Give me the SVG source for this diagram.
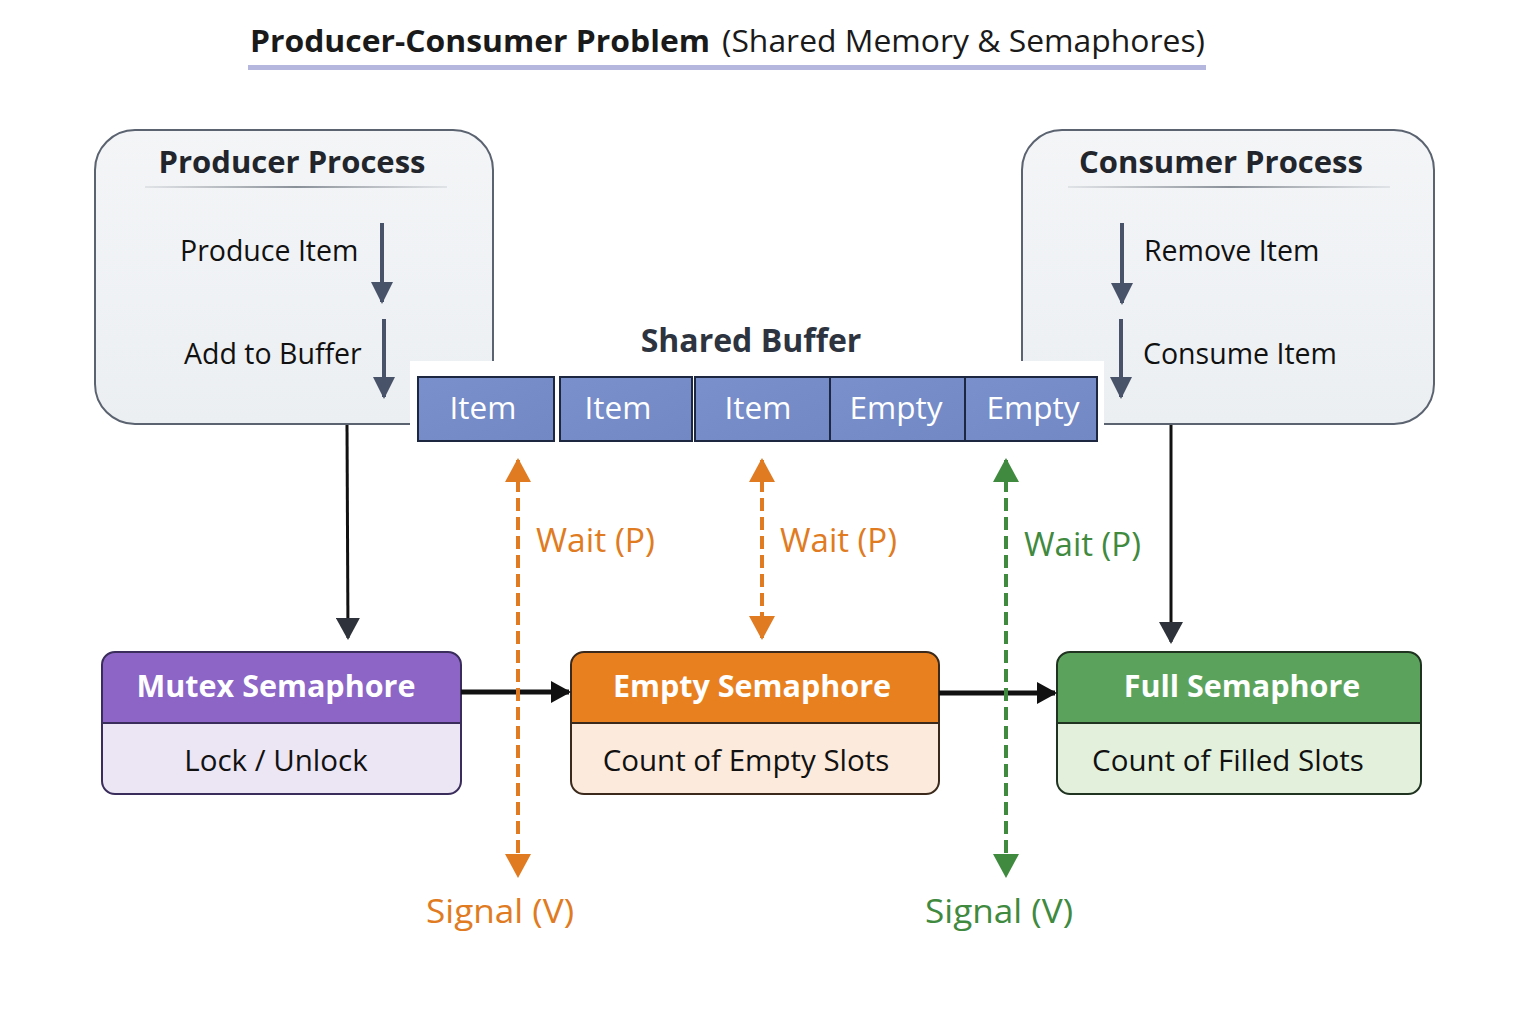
<svg xmlns="http://www.w3.org/2000/svg" width="1536" height="1024" viewBox="0 0 1536 1024">
<defs>
<style>
text{font-family:"Open Sans","Noto Sans","Liberation Sans",sans-serif}
.title{font-size:31px;fill:#1a1a1a}
.ph{font-size:31px;font-weight:700;fill:#22262c;text-anchor:middle}
.step{font-size:28.5px;font-weight:500;fill:#111}
.cell{font-size:31.5px;font-weight:500;fill:#fff;text-anchor:middle}
.shh{font-size:30.5px;font-weight:700;fill:#fff;text-anchor:middle}
.shb{font-size:29.5px;font-weight:500;fill:#111;text-anchor:middle}
.orange{fill:#e07b22;font-size:32px;font-weight:500}
.green{fill:#3f8a3f;font-size:32px;font-weight:500}
.pbox{fill:url(#pg);stroke:#5b6370;stroke-width:2}
.cellr{fill:url(#cg);stroke:#1e2740;stroke-width:2}
.step-arrow{stroke:#48536a;stroke-width:4;fill:none;marker-end:url(#slate)}
.blk{stroke:#111;stroke-width:3;fill:none;marker-end:url(#blackv)}
.blkh{stroke:#111;stroke-width:5;fill:none;marker-end:url(#blackh)}
.dash-o{stroke:#e07b22;stroke-width:4;stroke-dasharray:13 6;fill:none}
.dash-g{stroke:#3f8a3f;stroke-width:4;stroke-dasharray:13 6;fill:none}
</style>
<linearGradient id="pg" x1="0" y1="0" x2="0" y2="1"><stop offset="0" stop-color="#f3f5f7"/><stop offset="1" stop-color="#eceff2"/></linearGradient>
<linearGradient id="cg" x1="0" y1="0" x2="1" y2="1"><stop offset="0" stop-color="#7a90cc"/><stop offset="1" stop-color="#7188c4"/></linearGradient>
<linearGradient id="dv" x1="0" y1="0" x2="1" y2="0"><stop offset="0" stop-color="#9aa0a8" stop-opacity="0.2"/><stop offset="0.5" stop-color="#8a9098"/><stop offset="1" stop-color="#9aa0a8" stop-opacity="0.2"/></linearGradient>
<marker id="slate" markerUnits="userSpaceOnUse" markerWidth="24" markerHeight="22" refX="20" refY="11" orient="auto"><path d="M0,0 L22,11 L0,22 z" fill="#48536a"/></marker>
<marker id="blackv" markerUnits="userSpaceOnUse" markerWidth="24" markerHeight="24" refX="20" refY="12" orient="auto"><path d="M0,0 L22,12 L0,24 z" fill="#2e333b"/></marker>
<marker id="blackh" markerUnits="userSpaceOnUse" markerWidth="22" markerHeight="22" refX="18" refY="11" orient="auto"><path d="M0,0 L20,11 L0,22 z" fill="#111"/></marker>
<marker id="oa" markerUnits="userSpaceOnUse" markerWidth="26" markerHeight="26" refX="22" refY="13" orient="auto-start-reverse"><path d="M0,0 L24,13 L0,26 z" fill="#e07b22"/></marker>
<marker id="ga" markerUnits="userSpaceOnUse" markerWidth="26" markerHeight="26" refX="22" refY="13" orient="auto-start-reverse"><path d="M0,0 L24,13 L0,26 z" fill="#3f8a3f"/></marker>
</defs>
<rect width="1536" height="1024" fill="#fff"/>

<g id="title">
<text class="title" x="250" y="52"><tspan font-weight="700" textLength="460" lengthAdjust="spacingAndGlyphs">Producer-Consumer Problem</tspan><tspan x="722" textLength="483" lengthAdjust="spacingAndGlyphs">(Shared Memory &amp; Semaphores)</tspan></text>
<rect x="248" y="65" width="958" height="5" fill="#b6b7df"/>
</g>

<g id="producer">
<rect class="pbox" x="95" y="130" width="398" height="294" rx="40"/>
<text class="ph" x="292" y="173">Producer Process</text>
<rect x="145" y="186" width="302" height="2" fill="url(#dv)"/>
<text class="step" x="180" y="261">Produce Item</text>
<text class="step" x="184" y="364">Add to Buffer</text>
<line class="step-arrow" x1="382" y1="223" x2="382" y2="302"/>
<line class="step-arrow" x1="384" y1="319" x2="384" y2="397"/>
</g>

<g id="consumer">
<rect class="pbox" x="1022" y="130" width="412" height="294" rx="40"/>
<text class="ph" x="1221" y="173">Consumer Process</text>
<rect x="1068" y="186" width="322" height="2" fill="url(#dv)"/>
<text class="step" x="1144" y="261">Remove Item</text>
<text class="step" x="1143" y="364">Consume Item</text>
<line class="step-arrow" x1="1122" y1="223" x2="1122" y2="303"/>
<line class="step-arrow" x1="1121" y1="319" x2="1121" y2="397"/>
</g>

<g id="buffer">
<rect x="410" y="361" width="694" height="64" fill="#fff"/>
<text x="751" y="352" font-size="32" font-weight="700" fill="#2d3440" text-anchor="middle">Shared Buffer</text>
<rect class="cellr" x="418" y="377" width="136" height="64"/>
<rect class="cellr" x="560" y="377" width="132" height="64"/>
<rect class="cellr" x="695" y="377" width="135" height="64"/>
<rect class="cellr" x="830" y="377" width="135" height="64"/>
<rect class="cellr" x="965" y="377" width="132" height="64"/>
<text class="cell" x="483" y="419">Item</text>
<text class="cell" x="618" y="419">Item</text>
<text class="cell" x="758" y="419">Item</text>
<text class="cell" x="896" y="419">Empty</text>
<text class="cell" x="1033" y="419">Empty</text>
</g>

<g id="mutex">
<rect x="102" y="652" width="359" height="142" rx="13" fill="#ebe5f4"/>
<path d="M102,723 V665 a13,13 0 0 1 13,-13 H448 a13,13 0 0 1 13,13 V723 z" fill="#8c65c6"/>
<rect x="102" y="652" width="359" height="142" rx="13" fill="none" stroke="#3a2d5c" stroke-width="2"/>
<line x1="102" y1="723" x2="461" y2="723" stroke="#3a2d5c" stroke-width="2"/>
<text class="shh" x="276" y="697">Mutex Semaphore</text>
<text class="shb" x="276" y="771">Lock / Unlock</text>
</g>

<g id="empty">
<rect x="571" y="652" width="368" height="142" rx="13" fill="#fcebdc"/>
<path d="M571,723 V665 a13,13 0 0 1 13,-13 H926 a13,13 0 0 1 13,13 V723 z" fill="#e8801f"/>
<rect x="571" y="652" width="368" height="142" rx="13" fill="none" stroke="#3b2a1c" stroke-width="2"/>
<line x1="571" y1="723" x2="939" y2="723" stroke="#3b2a1c" stroke-width="2"/>
<text class="shh" x="752" y="697">Empty Semaphore</text>
<text class="shb" x="746" y="771">Count of Empty Slots</text>
</g>

<g id="full">
<rect x="1057" y="652" width="364" height="142" rx="13" fill="#e3f1dc"/>
<path d="M1057,723 V665 a13,13 0 0 1 13,-13 H1408 a13,13 0 0 1 13,13 V723 z" fill="#5ba35c"/>
<rect x="1057" y="652" width="364" height="142" rx="13" fill="none" stroke="#1f3320" stroke-width="2"/>
<line x1="1057" y1="723" x2="1421" y2="723" stroke="#1f3320" stroke-width="2"/>
<text class="shh" x="1242" y="697">Full Semaphore</text>
<text class="shb" x="1228" y="771">Count of Filled Slots</text>
</g>

<g id="connectors">
<line class="blk" x1="347" y1="425" x2="348" y2="638"/>
<line class="blk" x1="1171" y1="425" x2="1171" y2="642"/>
<line class="blkh" x1="461" y1="692" x2="569" y2="692"/>
<line class="blkh" x1="939" y1="693" x2="1055" y2="693"/>
<line class="dash-o" x1="518" y1="460" x2="518" y2="876" marker-start="url(#oa)" marker-end="url(#oa)"/>
<line class="dash-o" x1="762" y1="460" x2="762" y2="638" marker-start="url(#oa)" marker-end="url(#oa)"/>
<line class="dash-g" x1="1006" y1="460" x2="1006" y2="876" marker-start="url(#ga)" marker-end="url(#ga)"/>
<text class="orange" x="536" y="552" textLength="119" lengthAdjust="spacingAndGlyphs">Wait (P)</text>
<text class="orange" x="780" y="552" textLength="117" lengthAdjust="spacingAndGlyphs">Wait (P)</text>
<text class="green" x="1024" y="556" textLength="117" lengthAdjust="spacingAndGlyphs">Wait (P)</text>
<text class="orange" x="426" y="923" textLength="148" lengthAdjust="spacingAndGlyphs">Signal (V)</text>
<text class="green" x="925" y="923" textLength="148" lengthAdjust="spacingAndGlyphs">Signal (V)</text>
</g>
</svg>
